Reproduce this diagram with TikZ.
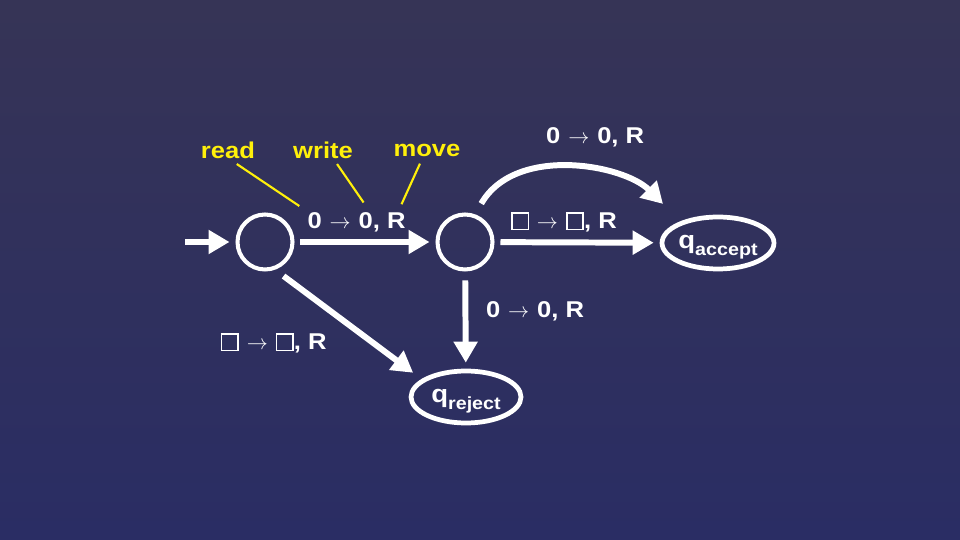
\documentclass[tikz,border=0pt]{standalone}
\usepackage{fontspec}
\setmainfont{Liberation Sans}[FakeStretch=1.12]
\usetikzlibrary{shapes.geometric, arrows.meta, positioning}
\definecolor{bgtop}{RGB}{54,52,86}
\definecolor{bgbottom}{RGB}{42,45,100}
\definecolor{hintyellow}{RGB}{255,240,10}
\newcommand{\blanksym}{{\setlength{\fboxsep}{0pt}\setlength{\fboxrule}{0.9pt}\fbox{\rule{0pt}{8.5pt}\rule{8.5pt}{0pt}}}}
\newcommand{\tmove}{\hspace{4.5pt}$\rightarrow$\hspace{4.5pt}}
\newcommand{\haltname}[1]{q{\fontsize{10}{12}\selectfont\raisebox{-4pt}{#1}}}
\tikzset{
    state/.style={draw=white, circle, minimum size=1.1cm, inner sep=0pt, line width=2.3pt},
    halt/.style={draw=white, ellipse, minimum width=2.2cm, minimum height=1.04cm, inner sep=0pt, line width=2.7pt, text=white, text height=9pt, text depth=3pt, font=\bfseries\fontsize{14}{16}\selectfont},
    trans/.style={line width=3.4pt, draw=white, -{Triangle[length=0.42cm, width=0.46cm]}, shorten <=3.4pt, shorten >=3.4pt},
    rule/.style={text=white, font=\bfseries\fontsize{13}{15}\selectfont, inner sep=2pt},
    hint/.style={text=hintyellow, font=\bfseries\fontsize{13}{15}\selectfont, inner sep=1pt},
    pointer/.style={draw=hintyellow, line width=1.2pt}
}

\begin{document}
\begin{tikzpicture}[x=0.02cm, y=-0.02cm]

        % Sfondo
        \shade [top color=bgtop, bottom color=bgbottom] (0,0) rectangle (960,540);
        \useasboundingbox (0,0) rectangle (960,540);

        % Stati
        \node (q0) [state] at (265,242) {};
        \node (q1) [state] at (465,242) {};
        \node (qacc) [halt] at (718,243) {\haltname{accept}};
        \node (qrej) [halt] at (466,397) {\haltname{reject}};
        \coordinate (entry) at (185,242);

        % Transizioni
        \draw [trans, shorten <=0pt] (entry) -- (q0);
        \draw [trans] (q0) -- node (lbl) [rule, above=2pt, pos=0.44] {0\tmove0, R} (q1);
        \draw [trans] (q1) -- node [rule, above=2pt, pos=0.42] {\blanksym\tmove\blanksym, R} (qacc);
        \draw [trans, shorten <=7pt, shorten >=14pt] (q1.70) to [out=60, in=135] node [rule, above=12pt, pos=0.6] {0\tmove0, R} (qacc.150);
        \draw [trans, shorten <=5pt] (q1) -- node [rule, right=8pt, pos=0.41] {0\tmove0, R} (qrej);
        \draw [trans, shorten <=6pt, shorten >=6pt] (q0.-70) -- node [rule, pos=0.6, anchor=north east, xshift=-17pt, yshift=5pt] {\blanksym\tmove\blanksym, R} (qrej.158);

        % Legenda lettura / scrittura / movimento
        \node (read) [hint] at (228,150) {read};
        \node (write) [hint] at (323,150) {write};
        \node (move) [hint] at (427,150) {move};
        \draw [pointer] ([xshift=5pt, yshift=-2pt]read.south) -- ([xshift=-1pt, yshift=0pt]lbl.north west);
        \draw [pointer] ([xshift=8pt, yshift=-2pt]write.south) -- ([xshift=4pt, yshift=2pt]lbl.north);
        \draw [pointer] ([xshift=-4pt, yshift=-3pt]move.south) -- ([xshift=-6pt, yshift=1pt]lbl.north east);

\end{tikzpicture}
\end{document}
